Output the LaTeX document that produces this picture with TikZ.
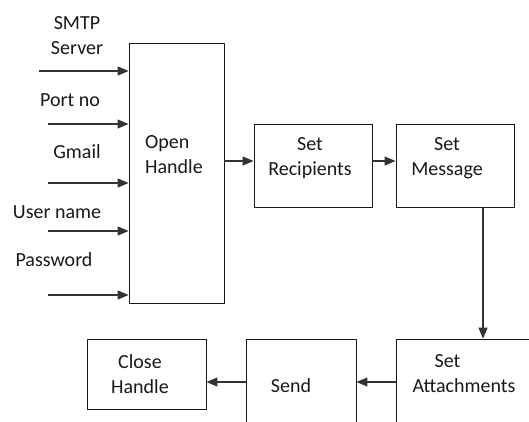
\documentclass[tikz,border=0pt]{standalone}
\usepackage{fontspec}
\setmainfont{Carlito}
\usetikzlibrary{arrows.meta}
\begin{document}
\begin{tikzpicture}[x=1pt,y=1pt,
  font=\fontsize{20}{25}\selectfont,
  blk/.style={draw=black!90,line width=0.9pt,rectangle,inner sep=0pt},
  lbl/.style={inner sep=0pt,text=black!90},
  arr/.style={draw=black!80,line width=1.1pt,-{Triangle[length=11pt,width=9pt]}}]
\useasboundingbox (0,0) rectangle (529,-421);
\clip (0,0) rectangle (529,-421);
\fill[white] (0,0) rectangle (529,-421);

% process boxes
\node[blk,minimum width=95pt,minimum height=260pt] (open) at (176.5,-173) {};
\node[blk,minimum width=118pt,minimum height=83pt] (recip) at (313,-165.5) {};
\node[blk,minimum width=118pt,minimum height=83pt] (msg) at (455,-165.5) {};
\node[blk,minimum width=119pt,minimum height=70pt] (close) at (146.5,-374) {};
\node[blk,minimum width=110pt,minimum height=102pt] (send) at (301,-390) {};
\node[blk,minimum width=150pt,minimum height=102pt] (att) at (471,-390) {};

% box texts
\node[lbl,align=left] (topen) at (174,-154.5) {Open\\Handle};
\node[lbl,align=center] (trecip) at (310,-158) {Set\\Recipients};
\node[lbl,align=center] (tmsg) at (447,-158) {Set\\Message};
\node[lbl,align=center] (tclose) at (140,-374) {Close\\Handle};
\node[lbl] (tsend) at (291,-386) {Send};
\node[lbl,align=left] (tatt) at (464,-374) {\hspace*{22pt}Set\\Attachments};

% input labels
\node[lbl,align=center] (lsmtp) at (77,-35.5) {SMTP\\Server};
\node[lbl] (lport) at (70,-100) {Port no};
\node[lbl] (lgmail) at (77,-152) {Gmail};
\node[lbl] (luser) at (57,-212) {User name};
\node[lbl] (lpass) at (54,-260) {Password};

% input arrows
\coordinate (in1) at (39,-71);
\coordinate (in2) at (48,-124);
\coordinate (in3) at (48,-183);
\coordinate (in4) at (48,-231);
\coordinate (in5) at (48,-295);
\foreach \i in {1,...,5}
  \draw[arr] (in\i) -- (in\i -| open.west);

% flow arrows
\draw[arr] (open.east |- 0,-161) -- (recip.west |- 0,-161);
\draw[arr] (recip.east |- 0,-161) -- (msg.west |- 0,-161);
\draw[arr] ([xshift=28pt]msg.south) -- ([xshift=28pt]msg.south |- att.north);
\draw[arr] (att.west |- 0,-382) -- (send.east |- 0,-382);
\draw[arr] (send.west |- 0,-382) -- (close.east |- 0,-382);
\end{tikzpicture}
\end{document}
